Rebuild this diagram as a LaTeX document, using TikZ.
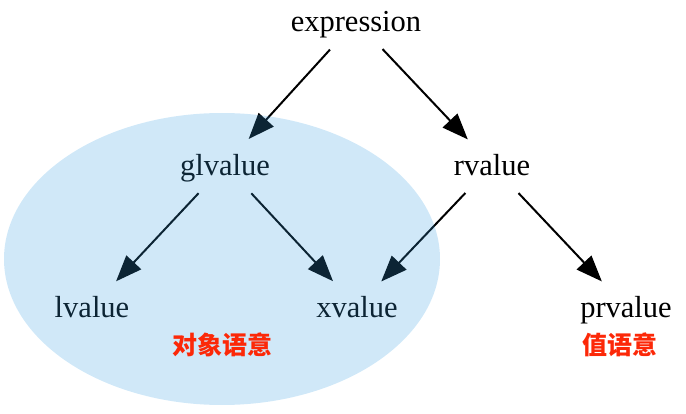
\documentclass[tikz,border=0pt]{standalone}
\usepackage{fontspec}
\setmainfont{Liberation Serif}
\newfontfamily\cjk{Noto Sans CJK SC}
\usetikzlibrary{arrows.meta}
\definecolor{blobblue}{RGB}{52,157,226}
\definecolor{notered}{RGB}{252,40,8}
\begin{document}
\begin{tikzpicture}[x=1pt,y=-1pt]
			\tikzstyle{cat}=[circle,minimum size=74pt,inner sep=0,
				label={[font=\fontsize{30.5}{31}\selectfont,text height=23pt,text depth=2pt,inner sep=0]center:#1}]
			\tikzstyle{edge}=[-{Triangle[length=26pt,width=20pt]},line width=2pt,shorten <=1.5pt,shorten >=-2pt]
			\tikzstyle{blob}=[fill=blobblue,fill opacity=0.23]
			\tikzstyle{note}=[text=notered,font=\cjk\bfseries\fontsize{25}{26}\selectfont,inner sep=0]
			\useasboundingbox (0,0) rectangle (686,414);
			
			\node [cat=expression] (expr) at (356,21) {};
			\node [cat=glvalue] (gl) at (225,165) {};
			\node [cat=rvalue] (r) at (492,165) {};
			\node [cat=lvalue] (l) at (92,307) {};
			\node [cat=xvalue] (x) at (357,307) {};
			\node [cat=prvalue] (pr) at (626,307) {};
			
			\draw[edge] (expr)--(gl);
			\draw[edge] (expr)--(r);
			\draw[edge] (gl)--(l);
			\draw[edge] (gl)--(x);
			\draw[edge] (r)--(x);
			\draw[edge] (r)--(pr);
			
			\fill[blob] (222,259) ellipse [x radius=218pt,y radius=146pt];
			
			\node [note] (obj) at (222,345) {对象语意};
			\node [note] (val) at (620,345) {值语意};
		\end{tikzpicture}
\end{document}
